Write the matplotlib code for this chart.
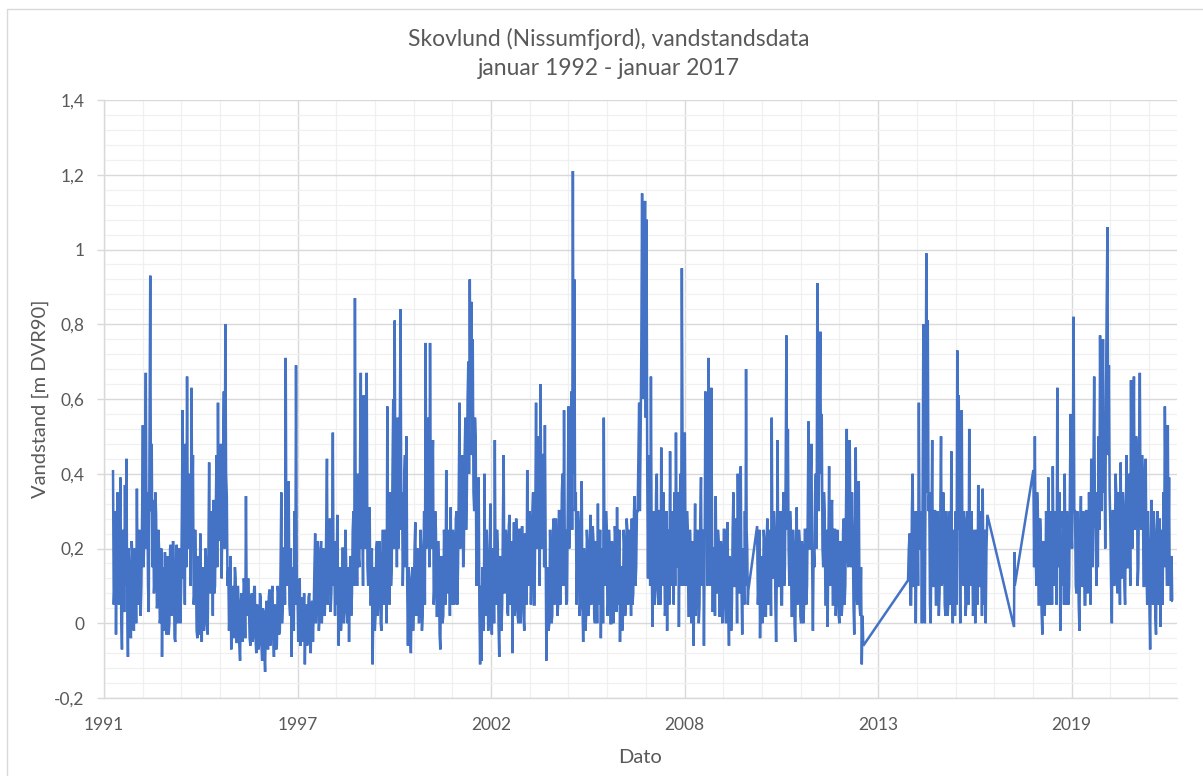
import numpy as np
import matplotlib
matplotlib.use("Agg")
import matplotlib.pyplot as plt
from matplotlib.ticker import FixedLocator, MultipleLocator, FuncFormatter
from matplotlib.patches import Rectangle

# ---------------- texts ----------------
title = "Skovlund (Nissumfjord), vandstandsdata\njanuar 1992 - januar 2017"
x_label = "Dato"
y_label = "Vandstand [m DVR90]"

# ---------------- axis data ----------------
axis_start = 1991.9
axis_end = 2022.26
major_step_days = 2000
x_tick_labels = ["1991", "1997", "2002", "2008", "2013", "2019"]
y_ticks = [-0.2, 0.0, 0.2, 0.4, 0.6, 0.8, 1.0, 1.2, 1.4]

# ---------------- water level series (m DVR90) ----------------
v1992 = [0.41, 0.05, 0.10, 0.30, -0.03, 0.22, 0.35, 0.08, 0.05, 0.28, 0.39, 0.02,
         -0.07, 0.25, 0.20, 0.03, 0.37, 0.10, 0.44, 0.05, -0.09, 0.20, 0.12, -0.02,
         -0.04, 0.22, 0.18, 0.00, -0.02, 0.20, 0.15, 0.00, 0.36, 0.08, 0.05, 0.25,
         0.22, 0.02, 0.10, 0.30]
v1993 = [0.53, 0.15, 0.25, 0.40, 0.67, 0.20, 0.35, 0.10, 0.03, 0.45, 0.93, 0.30,
         0.48, 0.15, 0.33, 0.08, 0.12, 0.35, 0.29, 0.04, 0.05, 0.25, 0.20, 0.00,
         0.02, 0.20, -0.09, 0.12, 0.15, -0.02, 0.19, 0.00, -0.03, 0.18, 0.12, -0.03,
         0.00, 0.20, 0.21, 0.02, 0.04, 0.22, 0.15, -0.04, -0.05, 0.15, 0.21, 0.00]
v1994 = [0.02, 0.20, 0.18, 0.00, 0.10, 0.30, 0.57, 0.12, 0.30, 0.05, 0.48, 0.15,
         0.66, 0.25, 0.20, 0.40, 0.38, 0.10, 0.63, 0.30, 0.45, 0.05, 0.08, 0.25,
         0.15, -0.02, -0.04, 0.18, 0.10, -0.03, 0.24, 0.05, -0.05, 0.15, 0.12, -0.02,
         0.02, 0.20, 0.16, 0.00, -0.03, 0.18, 0.43, 0.10, 0.08, 0.30, 0.25, 0.02]
v1995 = [0.33, 0.08, 0.10, 0.30, 0.45, 0.15, 0.59, 0.25, 0.22, 0.40, 0.48, 0.12,
         0.30, 0.45, 0.62, 0.20, 0.80, 0.40, 0.34, 0.10, 0.15, -0.02, 0.05, 0.18,
         -0.07, 0.08, 0.10, -0.04, 0.02, 0.15, 0.12, -0.05, -0.05, 0.10, 0.06, -0.06,
         -0.10, 0.05, 0.08, -0.05, 0.00, 0.12, 0.10, -0.04, 0.34, 0.05, 0.02, 0.12]
v1996 = [0.05, -0.04, -0.06, 0.06, 0.08, -0.05, -0.03, 0.09, 0.10, -0.04, -0.08, 0.05,
         0.02, -0.07, -0.05, 0.08, 0.07, -0.06, -0.10, 0.04, 0.03, -0.08, -0.13, 0.02,
         0.06, -0.05, -0.07, 0.07, 0.09, -0.06, -0.04, 0.08, 0.10, -0.03, -0.09, 0.04,
         0.05, -0.07, -0.06, 0.10, 0.08, -0.03, -0.02, 0.15, 0.35, 0.00, 0.05, 0.20]
v1997 = [0.20, 0.05, 0.71, 0.15, 0.10, 0.28, 0.38, 0.05, 0.02, 0.20, -0.09, 0.10,
         0.15, -0.02, 0.30, 0.05, 0.69, 0.12, 0.08, -0.05, 0.04, 0.12, -0.06, 0.05,
         0.07, -0.05, -0.02, 0.08, -0.11, 0.02, 0.05, -0.06, -0.05, 0.07, 0.08, -0.04,
         -0.08, 0.05, 0.06, -0.05, 0.03, 0.15, 0.24, 0.00, 0.08, 0.22, 0.20, -0.02]
v1998 = [0.02, 0.15, 0.22, 0.00, 0.05, 0.20, 0.18, 0.02, 0.10, 0.25, 0.44, 0.05,
         0.12, 0.25, 0.28, 0.03, 0.08, 0.22, 0.51, 0.10, 0.15, 0.02, 0.22, 0.05,
         0.29, 0.08, -0.06, 0.15, 0.12, -0.02, 0.02, 0.20, 0.20, 0.00, 0.05, 0.25,
         0.17, 0.03, 0.00, 0.15, -0.05, 0.12, 0.18, 0.02, 0.08, 0.25, 0.30, 0.10]
v1999 = [0.87, 0.30, 0.25, 0.10, 0.40, 0.18, 0.15, 0.45, 0.67, 0.20, 0.30, 0.10,
         0.61, 0.25, 0.20, 0.35, 0.67, 0.15, 0.10, 0.30, 0.31, 0.05, 0.05, 0.20,
         -0.11, 0.05, 0.15, -0.02, 0.02, 0.20, 0.22, 0.02, 0.08, 0.22, 0.18, 0.00,
         -0.02, 0.15, 0.25, 0.05, 0.10, 0.25, 0.12, 0.00, 0.58, 0.15, 0.20, 0.05]
v2000 = [0.35, 0.10, 0.15, 0.40, 0.60, 0.20, 0.81, 0.30, 0.40, 0.15, 0.55, 0.20,
         0.30, 0.55, 0.84, 0.25, 0.35, 0.10, 0.20, 0.40, 0.45, 0.15, 0.50, 0.10,
         -0.06, 0.15, 0.12, -0.03, -0.08, 0.10, 0.15, -0.02, 0.05, 0.20, 0.27, 0.02,
         0.03, 0.20, 0.18, 0.00, 0.08, 0.25, 0.20, -0.02, 0.02, 0.18, 0.30, 0.05]
v2001 = [0.75, 0.20, 0.30, 0.55, 0.45, 0.15, 0.75, 0.35, 0.20, 0.40, 0.49, 0.05,
         0.10, 0.30, 0.25, 0.02, 0.02, 0.22, 0.15, -0.03, -0.07, 0.18, 0.12, 0.00,
         0.02, 0.25, 0.20, 0.05, 0.41, 0.10, 0.08, 0.25, 0.18, 0.02, 0.31, 0.08,
         0.05, 0.25, 0.22, 0.05, 0.10, 0.28, 0.30, 0.05, 0.15, 0.35, 0.59, 0.20]
v2002 = [0.25, 0.40, 0.45, 0.15, 0.20, 0.45, 0.55, 0.25, 0.35, 0.60, 0.70, 0.40,
         0.92, 0.55, 0.86, 0.45, 0.76, 0.35, 0.30, 0.55, 0.50, 0.10, 0.15, 0.30,
         0.39, 0.05, -0.11, 0.10, -0.10, 0.15, 0.10, -0.02, 0.40, 0.05, 0.02, 0.25,
         0.15, -0.02, 0.05, 0.20, 0.32, 0.02, -0.03, 0.20, 0.18, 0.00, 0.49, 0.10]
v2003 = [0.05, 0.25, 0.20, 0.00, -0.09, 0.18, 0.15, -0.02, 0.05, 0.28, 0.45, 0.08,
         0.10, 0.25, 0.22, 0.03, 0.02, 0.26, 0.29, 0.05, 0.08, 0.22, -0.08, 0.15,
         0.27, 0.02, 0.05, 0.28, 0.20, 0.02, 0.00, 0.25, 0.25, 0.00, 0.08, 0.26,
         0.18, 0.02, -0.02, 0.24, 0.22, 0.05, 0.41, 0.15, 0.10, 0.30, 0.28, 0.05]
v2004 = [0.15, 0.30, 0.35, 0.05, 0.05, 0.30, 0.59, 0.20, 0.25, 0.50, 0.40, 0.10,
         0.64, 0.35, 0.20, 0.45, 0.45, 0.15, 0.53, 0.20, -0.10, 0.15, 0.10, -0.02,
         0.00, 0.25, 0.15, 0.00, 0.02, 0.25, 0.28, 0.05, 0.08, 0.28, 0.20, 0.02,
         0.05, 0.30, 0.30, 0.05, 0.15, 0.35, 0.40, 0.10, 0.57, 0.20, 0.25, 0.05]
v2005 = [0.06, 0.30, 0.58, 0.20, 0.30, 0.50, 0.62, 0.25, 1.21, 0.40, 0.92, 0.30,
         0.35, 0.05, 0.15, 0.30, 0.25, 0.02, 0.05, 0.25, 0.38, 0.05, -0.05, 0.20,
         0.12, -0.02, 0.02, 0.25, 0.20, 0.02, 0.05, 0.22, 0.29, 0.05, 0.08, 0.26,
         0.22, 0.02, 0.00, 0.22, 0.15, 0.00, 0.32, 0.05, 0.10, 0.25, -0.04, 0.15]
v2006 = [0.20, 0.00, 0.55, 0.15, 0.10, 0.30, 0.25, 0.02, 0.05, 0.25, 0.20, 0.00,
         0.00, 0.22, 0.18, 0.00, 0.08, 0.26, 0.22, 0.03, 0.31, 0.08, 0.05, 0.25,
         -0.05, 0.15, 0.15, -0.02, 0.02, 0.25, 0.20, 0.02, 0.06, 0.28, 0.25, 0.05,
         0.10, 0.25, 0.18, 0.02, 0.28, 0.05, 0.08, 0.30, 0.34, 0.10, 0.15, 0.30]
v2007 = [0.30, 0.45, 0.59, 0.30, 0.50, 0.75, 1.15, 0.60, 0.70, 0.90, 1.13, 0.55,
         1.08, 0.40, 0.12, 0.45, 0.35, 0.10, 0.66, 0.20, -0.01, 0.30, 0.25, 0.05,
         0.10, 0.35, 0.40, 0.10, 0.05, 0.30, 0.30, 0.05, 0.47, 0.15, 0.10, 0.35,
         0.25, 0.02, 0.05, 0.30, -0.02, 0.25, 0.20, 0.05, 0.46, 0.15, 0.10, 0.30]
v2008 = [0.20, 0.05, 0.35, 0.10, 0.51, 0.20, 0.15, 0.35, -0.01, 0.25, 0.40, 0.10,
         0.95, 0.45, 0.30, 0.10, 0.51, 0.20, 0.10, 0.30, 0.25, 0.02, 0.02, 0.25,
         0.18, 0.00, 0.05, 0.22, -0.06, 0.15, 0.32, 0.02, 0.08, 0.25, 0.22, 0.00,
         0.05, 0.28, 0.39, 0.10, 0.12, 0.25, -0.06, 0.20, 0.62, 0.30, 0.35, 0.10]
v2009 = [0.71, 0.35, 0.30, 0.10, 0.63, 0.25, 0.03, 0.20, 0.20, 0.02, 0.34, 0.10,
         0.08, 0.25, 0.22, 0.02, 0.02, 0.22, 0.18, 0.00, 0.06, 0.25, 0.25, 0.05,
         0.00, 0.22, 0.27, 0.05, -0.06, 0.18, 0.15, -0.02, 0.05, 0.25, 0.35, 0.10,
         0.10, 0.28, 0.20, 0.00, 0.40, 0.15, 0.08, 0.28, 0.42, 0.10, -0.03, 0.20]
v2010a = [0.15, 0.05, 0.30, 0.10, 0.68, 0.25, 0.20, 0.05, 0.09]
v2010b = [0.26, 0.05, 0.10, 0.25, -0.04, 0.15, 0.18, 0.00, 0.05, 0.25, 0.22, 0.02,
          0.02, 0.22, 0.28, 0.05, 0.08, 0.25, 0.20, 0.02, 0.55, 0.15, 0.12, 0.30,
          0.25, 0.05, -0.05, 0.15, 0.49, 0.10]
v2011 = [0.10, 0.28, 0.30, 0.05, 0.05, 0.25, 0.35, 0.10, 0.15, 0.40, 0.77, 0.25,
         0.52, 0.20, 0.10, 0.30, 0.25, 0.02, 0.02, 0.25, 0.20, 0.00, -0.05, 0.18,
         0.31, 0.05, 0.08, 0.25, 0.22, 0.02, 0.00, 0.22, 0.18, 0.00, 0.05, 0.25,
         0.25, 0.05, 0.10, 0.30, 0.54, 0.20, 0.20, 0.40, 0.48, 0.15, -0.02, 0.20]
v2012 = [0.15, 0.35, 0.40, 0.20, 0.91, 0.50, 0.30, 0.55, 0.78, 0.40, 0.56, 0.20,
         0.15, 0.35, 0.30, 0.05, 0.05, 0.25, -0.01, 0.20, 0.42, 0.15, 0.10, 0.30,
         0.33, 0.05, 0.05, 0.25, 0.25, 0.02, 0.08, 0.25, 0.20, 0.02, 0.00, 0.22,
         0.18, 0.02, 0.05, 0.25, 0.28, 0.05, 0.10, 0.30, 0.52, 0.20, 0.15, 0.35]
v2013 = [0.49, 0.20, 0.15, 0.35, 0.25, 0.05, -0.03, 0.20, 0.47, 0.10, 0.05, 0.25,
         0.38, 0.05, 0.02, 0.15, -0.11, 0.02, -0.06]
v2014 = [0.115, 0.20, 0.24, 0.05, 0.05, 0.30, 0.40, 0.10, 0.10, 0.30, 0.00, 0.25,
         0.30, 0.10, 0.59, 0.20]
v2015 = [0.20, 0.30, 0.00, 0.35, 0.80, 0.25, 0.00, 0.40, 0.99, 0.35, 0.81, 0.30,
         0.35, 0.05, 0.00, 0.25, 0.49, 0.10, 0.10, 0.30, 0.30, 0.05, 0.05, 0.30,
         0.25, 0.02, 0.08, 0.30, 0.50, 0.10, 0.12, 0.35, 0.28, 0.05, 0.02, 0.30,
         0.20, 0.02, 0.06, 0.28, 0.30, 0.05, 0.46, 0.10, 0.00, 0.25, 0.15, 0.02]
v2016 = [0.30, 0.05, 0.73, 0.25, 0.61, 0.20, 0.00, 0.30, 0.57, 0.15, 0.10, 0.30,
         0.25, 0.02, 0.05, 0.28, 0.30, 0.05, 0.52, 0.15, 0.10, 0.30, 0.20, 0.02,
         0.05, 0.25, 0.00, 0.20, 0.25, 0.05, 0.37, 0.10, 0.10, 0.30, 0.20, 0.02,
         0.36, 0.10, 0.05, 0.25, 0.00, 0.20]
gap_dates = [2016.894, 2017.649, 2017.658, 2017.669]
gap_values = [0.29, -0.01, 0.19, 0.10]
v2018 = [0.41, 0.15, 0.50, 0.20, 0.10, 0.35, 0.30, 0.05, 0.05, 0.28, 0.22, 0.03,
         -0.03, 0.22, 0.20, 0.02, 0.08, 0.30, 0.25, 0.05, 0.39, 0.10, 0.05, 0.30,
         0.20, 0.05, 0.42, 0.15, 0.10, 0.30, 0.28, 0.05, 0.63, 0.25, 0.15, 0.35,
         -0.02, 0.20]
v2019 = [0.10, 0.30, 0.25, 0.05, 0.40, 0.15, 0.05, 0.30, 0.22, 0.05, 0.10, 0.35,
         0.56, 0.25, 0.20, 0.40, 0.82, 0.30, 0.30, 0.10, 0.08, 0.30, 0.22, 0.05,
         -0.02, 0.25, 0.34, 0.10, 0.10, 0.30, 0.25, 0.05, 0.05, 0.30, 0.30, 0.08,
         0.12, 0.35, 0.20, 0.05, 0.44, 0.20, 0.15, 0.40, 0.66, 0.30, 0.25, 0.10]
v2020 = [0.35, 0.15, 0.50, 0.25, 0.77, 0.40, 0.30, 0.55, 0.76, 0.35, 0.45, 0.20,
         0.60, 0.85, 1.06, 0.45, 0.69, 0.35, 0.25, 0.10, 0.00, 0.30, 0.30, 0.10,
         0.15, 0.40, 0.35, 0.10, 0.08, 0.35, 0.25, 0.05, 0.43, 0.15, 0.12, 0.35,
         0.30, 0.10, 0.05, 0.30, 0.45, 0.15, 0.15, 0.40, 0.30, 0.10, 0.65, 0.30]
v2021 = [0.20, 0.40, 0.66, 0.25, 0.30, 0.50, 0.45, 0.10, 0.15, 0.40, 0.67, 0.30,
         0.25, 0.45, 0.40, 0.10, 0.10, 0.35, 0.44, 0.15, 0.05, 0.30, 0.20, 0.05,
         -0.07, 0.20, 0.33, 0.10, 0.05, 0.30, 0.20, 0.02, -0.03, 0.25, 0.30, 0.05,
         0.10, 0.28, -0.01, 0.20, 0.25, 0.05, 0.35, 0.15, 0.58, 0.35, 0.20, 0.10]
v2022 = [0.53, 0.20, 0.39, 0.10, 0.18, 0.06, 0.18, 0.06, 0.06]

# sampling periods (decimal year start, end) of each block of readings
blocks = [
    (1992.155, 1993.0, v1992), (1993.0, 1994.0, v1993), (1994.0, 1995.0, v1994),
    (1995.0, 1996.0, v1995), (1996.0, 1997.0, v1996), (1997.0, 1998.0, v1997),
    (1998.0, 1999.0, v1998), (1999.0, 2000.0, v1999), (2000.0, 2001.0, v2000),
    (2001.0, 2002.0, v2001), (2002.0, 2003.0, v2002), (2003.0, 2004.0, v2003),
    (2004.0, 2005.0, v2004), (2005.0, 2006.0, v2005), (2006.0, 2007.0, v2006),
    (2007.0, 2008.0, v2007), (2008.0, 2009.0, v2008), (2009.0, 2010.0, v2009),
    (2010.0, 2010.15, v2010a), (2010.38, 2011.0, v2010b), (2011.0, 2012.0, v2011),
    (2012.0, 2013.0, v2012), (2013.0, 2013.405, v2013), (2014.65, 2015.0, v2014),
    (2015.0, 2016.0, v2015), (2016.0, 2016.89, v2016),
]
blocks_after_gap = [
    (2018.196, 2019.0, v2018), (2019.0, 2020.0, v2019), (2020.0, 2021.0, v2020),
    (2021.0, 2022.0, v2021), (2022.0, 2022.16, v2022),
]

dates, levels = [], []
for s, e, vals in blocks:
    dates.extend(np.linspace(s, e, len(vals), endpoint=False))
    levels.extend(vals)
dates.extend(gap_dates)
levels.extend(gap_values)
for s, e, vals in blocks_after_gap:
    dates.extend(np.linspace(s, e, len(vals), endpoint=False))
    levels.extend(vals)
dates = np.array(dates)
levels = np.array(levels)

# ---------------- figure ----------------
W, H = 1203, 776
fig = plt.figure(figsize=(W / 100, H / 100), dpi=100)
fig.patch.set_facecolor("white")
plt.rcParams["font.family"] = ["Lato", "DejaVu Sans"]

ax = fig.add_axes([104 / W, 1 - 698 / H, (1177 - 104) / W, (698 - 100) / H])

text_color = "#595959"
line_color = "#4472C4"
major_grid = "#D9D9D9"
minor_grid = "#F0F0F0"

ax.plot(dates, levels, color=line_color, lw=1.8, solid_joinstyle="miter",
        solid_capstyle="butt", zorder=3)

ax.set_xlim(axis_start, axis_end)
ax.set_ylim(-0.2, 1.4)

step = major_step_days / 365.25
major_x = [axis_start + i * step for i in range(len(x_tick_labels))]
minor_x = [axis_start + i * step / 5 for i in range(int((axis_end - axis_start) / (step / 5)) + 1)]
ax.xaxis.set_major_locator(FixedLocator(major_x))
ax.xaxis.set_minor_locator(FixedLocator(minor_x))
ax.set_xticklabels(x_tick_labels)

ax.yaxis.set_major_locator(FixedLocator(y_ticks))
ax.yaxis.set_minor_locator(MultipleLocator(0.04))


def yfmt(v, pos):
    s = f"{v:.1f}"
    if s.endswith(".0"):
        s = s[:-2]
    if s == "-0":
        s = "0"
    return s.replace(".", ",")


ax.yaxis.set_major_formatter(FuncFormatter(yfmt))

ax.grid(which="major", color=major_grid, lw=1.0, zorder=0)
ax.grid(which="minor", color=minor_grid, lw=0.9, zorder=0)
ax.set_axisbelow(True)

for side in ["top", "right"]:
    ax.spines[side].set_visible(False)
for side in ["left", "bottom"]:
    ax.spines[side].set_color(major_grid)
    ax.spines[side].set_linewidth(1.0)

ax.tick_params(axis="y", which="major", length=5, width=1.0, color=major_grid,
               labelsize=12.5, labelcolor=text_color, pad=9)
ax.tick_params(axis="x", which="major", length=0, labelsize=12.5,
               labelcolor=text_color, pad=14)
ax.tick_params(which="minor", length=0)

ax.set_xlabel(x_label, fontsize=14.5, color=text_color, labelpad=11)
ax.set_ylabel(y_label, fontsize=14.5, color=text_color, labelpad=4)

fig.text(0.506, 1 - 75 / H, title, ha="center", va="baseline", fontsize=16.5,
         color=text_color, linespacing=1.45)

# outer chart frame
fig.patches.append(Rectangle((7 / W, -0.1), 1.2, 1.1 - 9 / H, transform=fig.transFigure,
                             fill=False, edgecolor=major_grid, lw=1.0))

fig.savefig("out.png", dpi=100, facecolor="white")
